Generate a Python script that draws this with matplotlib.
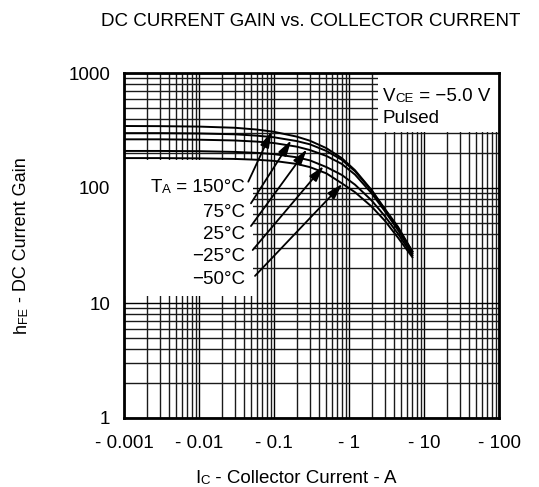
import matplotlib
matplotlib.use("Agg")

import numpy as np
import matplotlib.pyplot as plt
from matplotlib.patches import Rectangle
from matplotlib.ticker import LogLocator, NullFormatter

plt.rcParams["font.family"] = ["Liberation Sans", "DejaVu Sans"]

# -------- data --------
current_a = [0.001, 0.003, 0.01, 0.03, 0.06, 0.1, 0.2, 0.3, 0.5, 0.8, 1.2, 2, 3, 4.5, 7]
gain_150 = [346, 345, 342, 334, 322, 308, 280, 258, 222, 182, 143, 96, 66, 46, 28]
gain_75 = [300, 300, 298, 293, 285, 276, 256, 240, 210, 176, 140, 95, 65, 45, 28]
gain_25 = [265, 265, 263, 259, 253, 246, 229, 214, 190, 162, 131, 90, 63, 43, 27]
gain_m25 = [210, 210, 209, 206, 202, 197, 185, 174, 152, 130, 107, 78, 57, 40, 26]
gain_m50 = [182, 182, 181, 179, 176, 172, 162, 152, 134, 110, 92, 69, 52, 37, 25]
series = [gain_150, gain_75, gain_25, gain_m25, gain_m50]

temp_labels = ["150°C", "75°C", "25°C", "\u221225°C", "\u221250°C"]

# where each arrow touches its curve (current) and where it starts
arrow_tip_current = [0.093, 0.17, 0.275, 0.46, 0.82]
arrow_tail_current = [0.0454, 0.0493, 0.0493, 0.052, 0.0558]
arrow_tail_gain = [113.5, 73.6, 46.7, 28.9, 17.2]

x_ticks = [0.001, 0.01, 0.1, 1, 10, 100]
x_tick_labels = ["- 0.001", "- 0.01", "- 0.1", "- 1", "- 10", "- 100"]
y_ticks = [1, 10, 100, 1000]
y_tick_labels = ["1", "10", "100", "1000"]

W, H = 539, 487
FS = 13.5
FS_SMALL = 9.5


def rich(ax, x, y, pieces, align="left", rotation=0):
    """Chain text pieces of different sizes. x, y in pixels from top-left."""
    if rotation == 90:
        prev = None
        for text, size in pieces:
            if prev is None:
                prev = ax.annotate(text, xy=(x, H - y), xycoords="figure pixels",
                                   ha="right", va="bottom", rotation=90, fontsize=size)
            else:
                prev = ax.annotate(text, xy=(1, 1), xycoords=prev,
                                   ha="right", va="bottom", rotation=90, fontsize=size)
        return
    order = pieces if align == "left" else pieces[::-1]
    prev = None
    for text, size in order:
        if prev is None:
            prev = ax.annotate(text, xy=(x, H - y), xycoords="figure pixels",
                               ha=align, va="baseline", fontsize=size)
        else:
            prev = ax.annotate(text, xy=(1, 0) if align == "left" else (0, 0),
                               xycoords=prev, ha=align, va="bottom", fontsize=size)


fig = plt.figure(figsize=(W / 100, H / 100), dpi=100)
ax = fig.add_axes([124 / W, 1 - 418 / H, 375 / W, 345 / H])

ax.set_xscale("log")
ax.set_yscale("log")
ax.set_xlim(0.001, 100)
ax.set_ylim(1, 1000)

ax.set_axisbelow(True)
ax.xaxis.set_minor_locator(LogLocator(base=10, subs=np.arange(2, 10)))
ax.yaxis.set_minor_locator(LogLocator(base=10, subs=np.arange(2, 10)))
ax.xaxis.set_minor_formatter(NullFormatter())
ax.yaxis.set_minor_formatter(NullFormatter())
ax.grid(which="major", color="black", lw=1.0)
ax.grid(which="minor", color="0.1", lw=1.0)

ax.set_xticks(x_ticks)
ax.set_xticklabels(x_tick_labels)
ax.set_yticks(y_ticks)
ax.set_yticklabels(y_tick_labels)
ax.tick_params(which="both", length=0, labelsize=FS)
ax.tick_params(axis="x", pad=12)
ax.tick_params(axis="y", pad=10)
for sp in ax.spines.values():
    sp.set_linewidth(2)

# white areas behind the text blocks
ax.add_patch(Rectangle((0, 0.354), 0.344, 0.394, transform=ax.transAxes,
                       facecolor="white", edgecolor="none", zorder=1))
ax.add_patch(Rectangle((0.677, 0.829), 0.323, 0.171, transform=ax.transAxes,
                       facecolor="white", edgecolor="none", zorder=1))

log_i = np.log10(current_a)
for gains, tip_i, tail_i, tail_g in zip(series, arrow_tip_current,
                                        arrow_tail_current, arrow_tail_gain):
    ax.plot(current_a, gains, color="black", lw=1.4, zorder=3)
    tip_g = 10 ** np.interp(np.log10(tip_i), log_i, np.log10(gains))
    ax.annotate("", xy=(tip_i, tip_g), xytext=(tail_i, tail_g),
                arrowprops=dict(arrowstyle="-|>,head_length=0.95,head_width=0.27",
                                mutation_scale=10, lw=1.3, color="black",
                                shrinkA=0, shrinkB=0), zorder=4)

# temperature labels
label_baselines = [191.7, 217.3, 239.0, 261.3, 284.0]
for i, (lab, yb) in enumerate(zip(temp_labels, label_baselines)):
    if i == 0:
        rich(ax, 245, yb, [("T", FS), ("A", FS_SMALL), (" = " + lab, FS)], align="right")
    else:
        rich(ax, 245, yb, [(lab, FS)], align="right")

rich(ax, 383, 101, [("V", FS), ("CE", FS_SMALL), (" = \u22125.0 V", FS)])
rich(ax, 383, 123, [("Pulsed", FS)])

fig.text(311 / W, 1 - 25.5 / H, "DC CURRENT GAIN vs. COLLECTOR CURRENT",
         ha="center", va="baseline", fontsize=FS)
rich(ax, 195, 483, [("I", FS), ("C", FS_SMALL), (" - Collector Current - A", FS)])
rich(ax, 30, 333, [("h", 13), ("FE", 9), (" - DC Current Gain", 13)], rotation=90)

fig.savefig("out.png", dpi=100)
